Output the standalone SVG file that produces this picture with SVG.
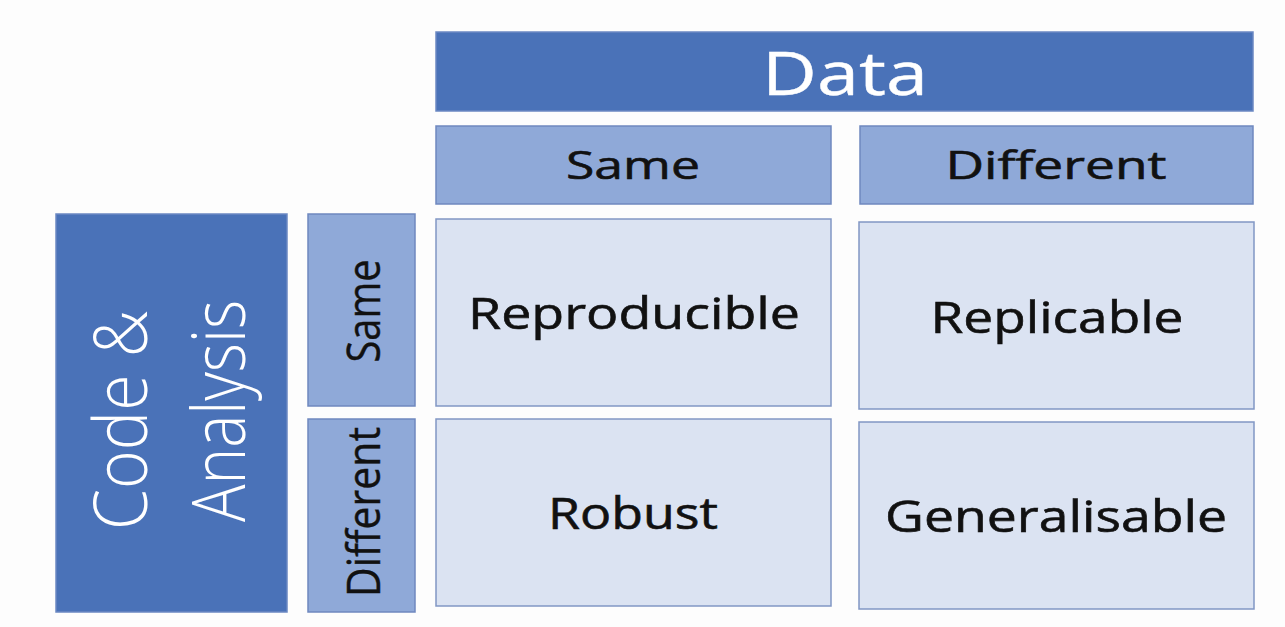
<svg xmlns="http://www.w3.org/2000/svg" width="1285" height="627" viewBox="0 0 1285 627">
  <style>
    .dark { fill: #4a72b8; stroke: #6b88c2; stroke-width: 1.5; }
    .mid { fill: #8fa9d8; stroke: #6f88bf; stroke-width: 1.5; }
    .light { fill: #dbe3f2; stroke: #8197c4; stroke-width: 1.5; }
    .txt { font-family: "Open Sans", "Liberation Sans", sans-serif; fill: #111; stroke: #111; stroke-width: 0.6; text-anchor: middle; }
    .wtxt { font-family: "Open Sans", "Liberation Sans", sans-serif; fill: #fff; stroke: #fff; stroke-width: 0.4; text-anchor: middle; }
    .narrow { font-family: "Open Sans", "Liberation Sans", sans-serif; text-anchor: middle; }
  </style>
  <rect width="1285" height="627" fill="#fdfdfd"/>

  <!-- column headers -->
  <g id="data-header">
    <rect class="dark" x="436" y="32" width="817" height="79"/>
    <text class="wtxt" x="845" y="95" font-size="61" textLength="166" lengthAdjust="spacingAndGlyphs">Data</text>
  </g>
  <g id="data-same">
    <rect class="mid" x="436" y="126" width="395" height="78"/>
    <text class="txt" x="633" y="179" font-size="38" textLength="134" lengthAdjust="spacingAndGlyphs">Same</text>
  </g>
  <g id="data-different">
    <rect class="mid" x="860" y="126" width="393" height="78"/>
    <text class="txt" x="1056" y="179" font-size="38" textLength="221" lengthAdjust="spacingAndGlyphs">Different</text>
  </g>

  <!-- row headers -->
  <g id="code-analysis">
    <rect class="dark" x="56" y="214" width="231" height="398"/>
    <text class="narrow" fill="#fff" font-size="74" font-weight="300" transform="translate(147 420) rotate(-90)" textLength="220" lengthAdjust="spacingAndGlyphs">Code &amp;</text>
    <text class="narrow" fill="#fff" font-size="74" font-weight="300" transform="translate(245 411) rotate(-90)" textLength="222" lengthAdjust="spacingAndGlyphs">Analysis</text>
  </g>
  <g id="code-same">
    <rect class="mid" x="308" y="214" width="107" height="192"/>
    <text class="narrow" fill="#111" stroke="#111" stroke-width="0.4" font-size="46" transform="translate(380 311) rotate(-90)" textLength="103" lengthAdjust="spacingAndGlyphs">Same</text>
  </g>
  <g id="code-different">
    <rect class="mid" x="308" y="419" width="107" height="193"/>
    <text class="narrow" fill="#111" stroke="#111" stroke-width="0.4" font-size="46" transform="translate(380 512) rotate(-90)" textLength="170" lengthAdjust="spacingAndGlyphs">Different</text>
  </g>

  <!-- outcome cells -->
  <g id="cell-reproducible">
    <rect class="light" x="436" y="219" width="395" height="187"/>
    <text class="txt" x="634" y="329" font-size="44" textLength="332" lengthAdjust="spacingAndGlyphs">Reproducible</text>
  </g>
  <g id="cell-replicable">
    <rect class="light" x="859" y="222" width="395" height="187"/>
    <text class="txt" x="1057" y="333" font-size="44" textLength="253" lengthAdjust="spacingAndGlyphs">Replicable</text>
  </g>
  <g id="cell-robust">
    <rect class="light" x="436" y="419" width="395" height="187"/>
    <text class="txt" x="633" y="529" font-size="44" textLength="170" lengthAdjust="spacingAndGlyphs">Robust</text>
  </g>
  <g id="cell-generalisable">
    <rect class="light" x="859" y="422" width="395" height="187"/>
    <text class="txt" x="1056" y="532" font-size="44" textLength="342" lengthAdjust="spacingAndGlyphs">Generalisable</text>
  </g>

  <g id="connectors"></g>
</svg>
